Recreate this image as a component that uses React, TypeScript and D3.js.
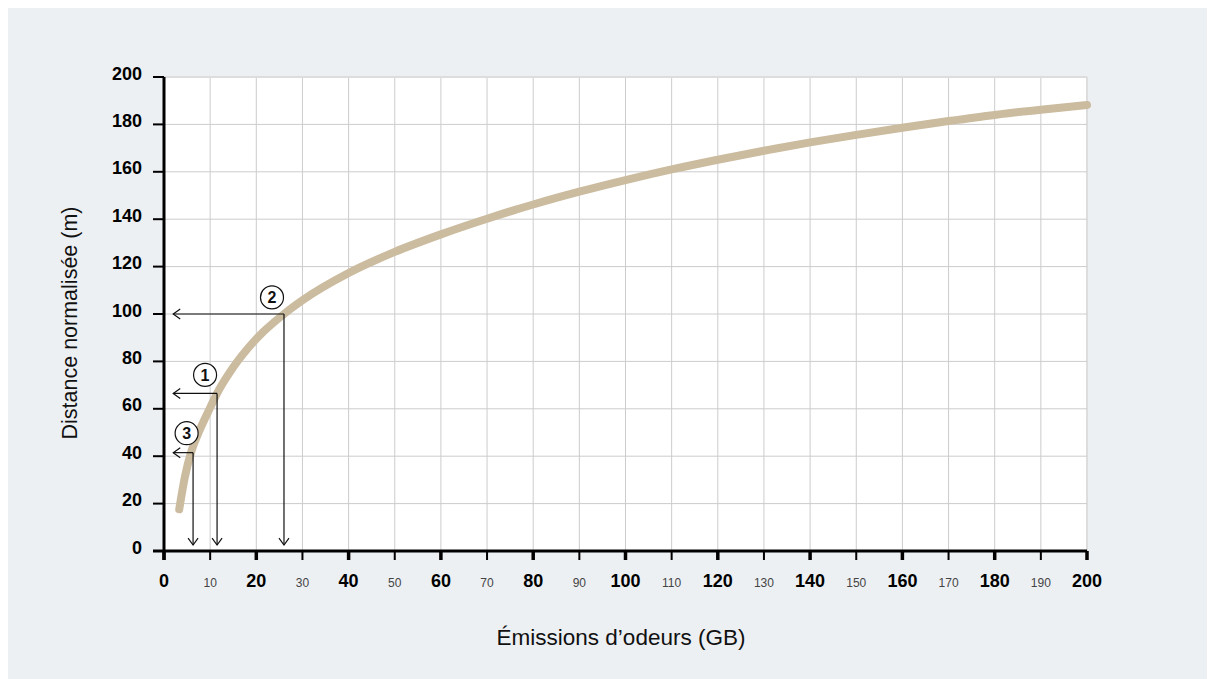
import React from 'react';
// d3 v7
import * as d3 from 'd3';

// curve
const emissions = [3.3, 4.5, 6, 7.5, 10, 11.5, 15, 20, 26, 30, 40, 50, 60, 70, 80, 90, 100, 110, 120, 130, 140, 150, 160, 170, 180, 190, 200];
const distance = [17.6, 31, 42.5, 50, 60.5, 66.5, 77.5, 89.5, 100, 105.8, 117.3, 126.2, 133.6, 140.2, 146.2, 151.6, 156.5, 161, 165.1, 168.9, 172.4, 175.6, 178.6, 181.4, 184, 186.2, 188.2];

// reading examples drawn on the chart
const markerIds = ['1', '2', '3'];
const markerX = [11.5, 26, 6.3];
const markerY = [66.5, 100, 41.5];
const badgeX = [8.9, 23.4, 4.9];
const badgeY = [74.3, 107, 49.7];
const arrowTipX = 2;
const arrowTipY = 2.5;

const xDomain = [0, 200];
const yDomain = [0, 200];
const xTickValues = d3.range(0, 201, 10);
const yTickValues = d3.range(0, 201, 20);

const xTitle = 'Émissions d’odeurs (GB)';
const yTitle = 'Distance normalisée (m)';

const W = 1199;
const H = 671;
const margin = { left: 156, right: 120, top: 69, bottom: 128 };
const FONT = '"Liberation Sans", Arial, Helvetica, sans-serif';

export default function App() {
  const innerW = W - margin.left - margin.right;
  const innerH = H - margin.top - margin.bottom;

  const x = d3.scaleLinear().domain(xDomain).range([0, innerW]);
  const y = d3.scaleLinear().domain(yDomain).range([innerH, 0]);

  const points = emissions.map((e, i) => [e, distance[i]] as [number, number]);
  const line = d3
    .line<[number, number]>()
    .x(d => x(d[0]))
    .y(d => y(d[1]))
    .curve(d3.curveMonotoneX);

  const tipX = x(arrowTipX);
  const tipY = y(arrowTipY);

  return (
    <div style={{ position: 'fixed', left: 8, top: 8 }}>
      <svg width={W} height={H} style={{ display: 'block' }} fontFamily={FONT}>
        <rect width={W} height={H} fill="#edf0f3" />
        <g transform={`translate(${margin.left},${margin.top})`}>
          <rect width={innerW} height={innerH} fill="#ffffff" />

          {/* grid */}
          {xTickValues.filter(v => v > 0).map(v => (
            <line
              key={'gx' + v}
              x1={x(v)} x2={x(v)} y1={0} y2={innerH}
              stroke={v === 200 ? '#dddddd' : '#cccccc'}
              strokeWidth={v === 200 ? 2 : 1}
            />
          ))}
          {yTickValues.filter(v => v > 0).map(v => (
            <line
              key={'gy' + v}
              x1={0} x2={innerW} y1={y(v)} y2={y(v)}
              stroke={v === 200 ? '#dddddd' : '#cccccc'}
              strokeWidth={v === 200 ? 2 : 1}
            />
          ))}

          {/* curve */}
          <path
            d={line(points) || ''}
            fill="none"
            stroke="#cbbb9f"
            strokeWidth={8}
            strokeLinecap="round"
            strokeLinejoin="round"
          />

          {/* reading arrows */}
          {markerIds.map((id, i) => {
            const cx = x(markerX[i]);
            const cy = y(markerY[i]);
            return (
              <g key={'m' + id} fill="none" stroke="#111" strokeWidth={1.2}>
                <line x1={cx} x2={tipX} y1={cy} y2={cy} />
                <line x1={cx} x2={cx} y1={cy} y2={tipY} />
                <polyline points={`${tipX + 7},${cy - 5} ${tipX},${cy} ${tipX + 7},${cy + 5}`} />
                <polyline points={`${cx - 5},${tipY - 7} ${cx},${tipY} ${cx + 5},${tipY - 7}`} />
                <circle cx={x(badgeX[i])} cy={y(badgeY[i])} r={11.5} fill="#fff" />
                <text
                  x={x(badgeX[i])}
                  y={y(badgeY[i]) + 6}
                  textAnchor="middle"
                  fontSize={16}
                  fontWeight="bold"
                  fill="#111"
                  stroke="none"
                >
                  {id}
                </text>
              </g>
            );
          })}

          {/* y axis */}
          <line x1={0} x2={0} y1={0} y2={innerH + 9} stroke="#000" strokeWidth={3} />
          {yTickValues.map(v => (
            <g key={'yt' + v}>
              <line x1={-11} x2={0} y1={y(v)} y2={y(v)} stroke="#000" strokeWidth={2} />
              <text
                x={-22}
                y={y(v) + 2.5}
                textAnchor="end"
                fontSize={18}
                fontWeight="bold"
                fill="#000"
              >
                {v}
              </text>
            </g>
          ))}

          {/* x axis */}
          <line x1={-11} x2={innerW} y1={innerH} y2={innerH} stroke="#000" strokeWidth={3} />
          {xTickValues.map(v => {
            const major = v % 20 === 0;
            return (
              <g key={'xt' + v}>
                <line
                  x1={x(v)} x2={x(v)} y1={innerH} y2={innerH + 9}
                  stroke="#000"
                  strokeWidth={major ? 3.5 : 2}
                />
                <text
                  x={x(v)}
                  y={innerH + 35.5}
                  textAnchor="middle"
                  fontSize={major ? 18 : 12}
                  fontWeight={major ? 'bold' : 'normal'}
                  fill={major ? '#000' : '#444'}
                >
                  {v}
                </text>
              </g>
            );
          })}
        </g>

        {/* axis titles */}
        <text x={613} y={637} textAnchor="middle" fontSize={22.5} fill="#111">
          {xTitle}
        </text>
        <text
          transform={`translate(69,315) rotate(-90)`}
          textAnchor="middle"
          fontSize={21.5}
          fill="#111"
        >
          {yTitle}
        </text>
      </svg>
    </div>
  );
}
